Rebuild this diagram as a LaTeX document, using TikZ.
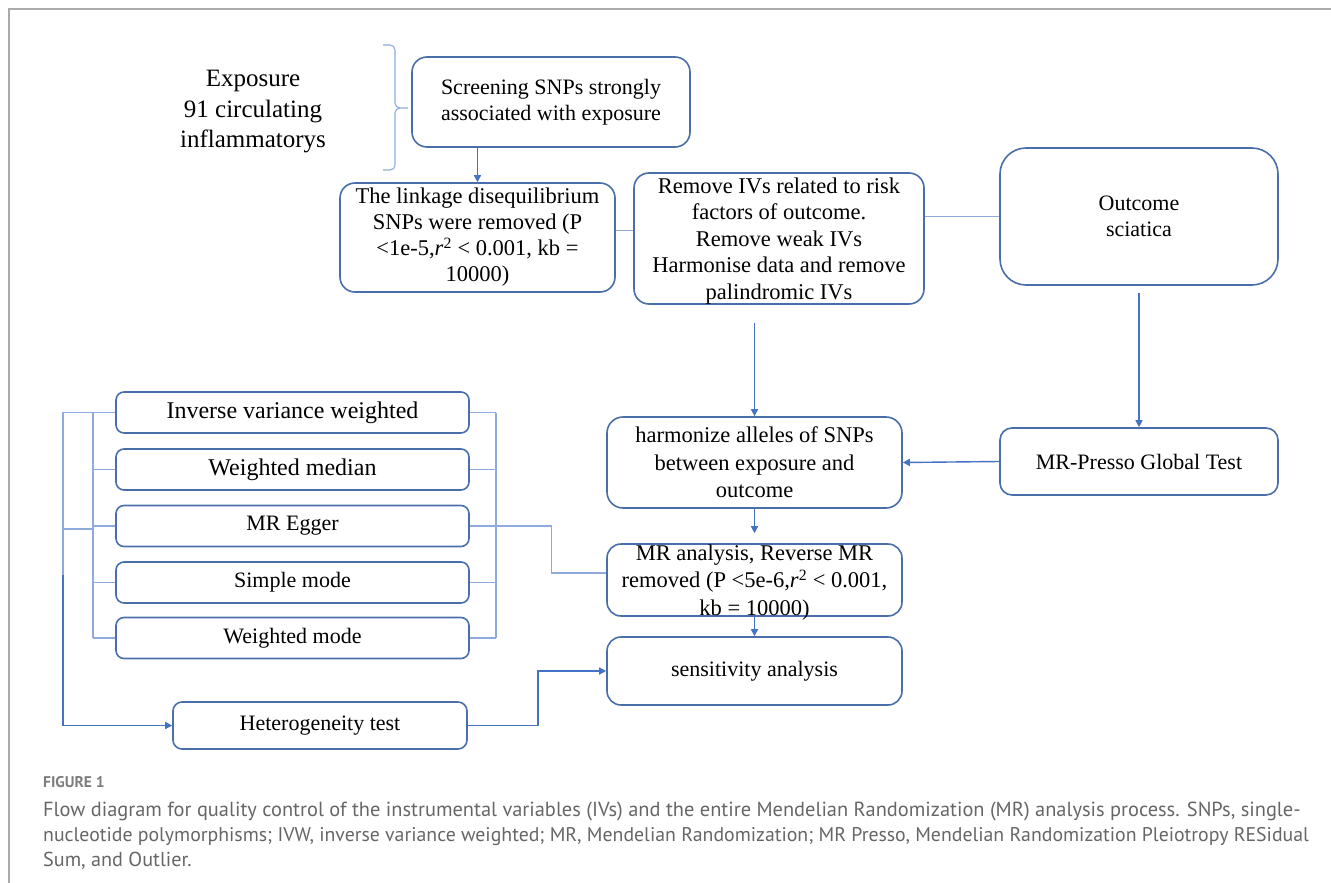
\documentclass[tikz,border=0pt]{standalone}
\usepackage{fontspec}
\setmainfont{Liberation Serif}
\newfontfamily\capfont{PT Sans}
\usetikzlibrary{arrows.meta,calc}
\definecolor{boxc}{HTML}{4A6EA9}
\definecolor{lightc}{HTML}{8FAADC}
\definecolor{arrc}{HTML}{4472C4}
\definecolor{capc}{HTML}{666666}
\definecolor{framec}{HTML}{AAAAAA}
\newcommand{\myfs}[2]{\fontsize{#1}{#2}\selectfont}
\begin{document}
\begin{tikzpicture}[x=1pt,y=-1pt,
  box/.style={draw=boxc,line width=1.6pt,rounded corners=12pt,inner sep=0pt,align=center,font=\myfs{22}{26.5}},
  sbox/.style={box,rounded corners=8pt,minimum width=353pt,minimum height=41pt},
  txt/.style={inner sep=0pt,align=center},
  thinl/.style={draw=lightc,line width=1.1pt},
  arr/.style={draw=arrc,line width=1.4pt,-{Triangle[length=7pt,width=7pt]}},
  captxt/.style={anchor=base west,inner sep=0pt,text=capc}]
\useasboundingbox (0,0) rectangle (1331,883);
% frame
\draw[framec,line width=1.5pt] (9,883) -- (9,9) -- (1331,9);

% exposure text and brace
\node[txt,font=\myfs{25}{30.5}] (expo) at (253,112) {Exposure\\91 circulating\\inflammatorys};
\draw[thinl] (383,45) -- (390,45) to[out=0,in=90] (395,50) -- (395,103) to[out=-90,in=180] (400,108) -- (408,108)
  (400,108) to[out=180,in=90] (395,113) -- (395,165) to[out=-90,in=0] (390,170) -- (383,170);

% top boxes
\node[box,rounded corners=15pt,minimum width=278pt,minimum height=90pt] (scr) at (551,102)
  {Screening SNPs strongly\\associated with exposure};
\node[box,rounded corners=15pt,minimum width=275pt,minimum height=109pt,font=\myfs{22.5}{26}] (link) at (477.5,237.5)
  {The linkage disequilibrium\\SNPs were removed (P\\<1e-5,\textit{r}\textsuperscript{2} < 0.001, kb =\\10000)};
\node[box,rounded corners=15pt,minimum width=290pt,minimum height=131pt] (rem) at (779,238.5) {};
\node[txt,font=\myfs{22.5}{26.5}] (remt) at (779,241)
  {Remove IVs related to risk\\factors of outcome.\\Remove weak IVs\\Harmonise data and remove\\palindromic IVs};
\node[box,rounded corners=26pt,minimum width=278pt,minimum height=137pt] (out) at (1139,216.5)
  {Outcome\\sciatica};
\node[box,minimum width=278pt,minimum height=67pt] (presso) at (1139,461.5) {MR-Presso Global Test};

% middle column
\node[box,rounded corners=16pt,minimum width=295pt,minimum height=91pt,font=\myfs{22.5}{27.5}] (harm) at (754.5,462.5)
  {harmonize alleles of SNPs\\between exposure and\\outcome};
\node[box,rounded corners=14pt,minimum width=295pt,minimum height=72pt] (mr) at (754.5,580) {};
\node[txt,font=\myfs{22.5}{27.5}] (mrt) at (754.5,582.5)
  {MR analysis, Reverse MR\\removed (P <5e-6,\textit{r}\textsuperscript{2} < 0.001,\\kb = 10000)};
\node[box,rounded corners=14pt,minimum width=295pt,minimum height=68pt] (sens) at (754.5,671) {sensitivity analysis};

% left method boxes
\node[sbox,font=\myfs{24}{28}] (ivw) at (292.5,412.5) {Inverse variance weighted};
\node[sbox,font=\myfs{24}{28}] (wm) at (292.5,469.5) {Weighted median};
\node[sbox] (egg) at (292.5,526) {MR Egger};
\node[sbox] (sm) at (292.5,582.5) {Simple mode};
\node[sbox] (wmo) at (292.5,638) {Weighted mode};
\node[box,rounded corners=9pt,minimum width=294pt,minimum height=47pt] (het) at (320,725.5) {Heterogeneity test};

% helper coordinates
\coordinate (ix) at (93,0);
\coordinate (ox) at (63,0);
\coordinate (rx) at (496,0);
\coordinate (ob) at (63,575);

% connectors top
\draw[arr] (scr.south -| link.north) -- (link.north);
\draw[thinl,line width=1.6pt] ([yshift=7pt]link.east) -- ([yshift=7pt]link.east -| rem.west);
\draw[thinl] (out.west) -- (out.west -| rem.east);
\draw[arr] ($(rem.south -| harm.north)+(0,18)$) -- (harm.north);
\draw[arr] ([yshift=-7pt]out.south) -- (presso.north);
\draw[arr] (presso.west) -- (harm.east);
\draw[arr] (harm.south) -- ([yshift=10pt]mr.north);
\draw[arr] (mr.south) -- (sens.north);
\draw[arr] (het.east) -- ++(70,0) |- (sens.west);

% left bracket
\draw[thinl] (ivw.west) -- (ivw.west -| ox) -- (ob);
\draw[thinl] (ivw.west -| ix) -- (wmo.west -| ix);
\foreach \n in {wm,egg,sm,wmo} \draw[thinl] (\n.west) -- (\n.west -| ix);
\draw[thinl] ([yshift=-3pt]egg.west -| ox) -- ([yshift=-3pt]egg.west -| ix);
\draw[arr] (ob) -- (het.west -| ox) -- (het.west);

% right bracket
\draw[thinl] (ivw.east -| rx) -- (wmo.east -| rx);
\foreach \n in {ivw,wm,sm,wmo} \draw[thinl] (\n.east) -- (\n.east -| rx);
\draw[thinl] (egg.east) -- ++(82,0) |- ([yshift=7pt]mr.west);

% caption
\node[anchor=base west,inner sep=0pt,font=\capfont\bfseries\myfs{15.5}{18},text=capc!85] (fig) at (43,787) {FIGURE 1};
\node[captxt,font=\capfont\myfs{20.4}{24}] (cap1) at (43,816)
  {Flow diagram for quality control of the instrumental variables (IVs) and the entire Mendelian Randomization (MR) analysis process. SNPs, single-};
\node[captxt,font=\capfont\myfs{19.8}{24}] (cap2) at (43,841)
  {nucleotide polymorphisms; IVW, inverse variance weighted; MR, Mendelian Randomization; MR Presso, Mendelian Randomization Pleiotropy RESidual};
\node[captxt,font=\capfont\myfs{20.2}{24}] (cap3) at (43,866)
  {Sum, and Outlier.};
\end{tikzpicture}
\end{document}
